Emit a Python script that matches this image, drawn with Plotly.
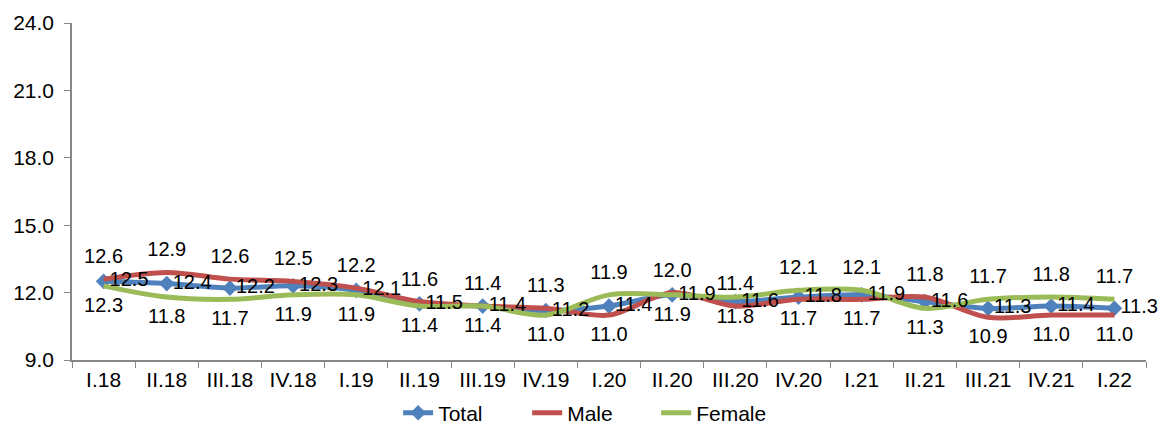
import plotly.graph_objects as go

categories = ["I.18", "II.18", "III.18", "IV.18", "I.19", "II.19", "III.19", "IV.19",
              "I.20", "II.20", "III.20", "IV.20", "I.21", "II.21", "III.21", "IV.21", "I.22"]
total = [12.5, 12.4, 12.2, 12.3, 12.1, 11.5, 11.4, 11.2, 11.4, 11.9, 11.6, 11.8, 11.9, 11.6, 11.3, 11.4, 11.3]
male = [12.6, 12.9, 12.6, 12.5, 12.2, 11.6, 11.4, 11.3, 11.0, 12.0, 11.4, 11.7, 11.7, 11.8, 10.9, 11.0, 11.0]
female = [12.3, 11.8, 11.7, 11.9, 11.9, 11.4, 11.4, 11.0, 11.9, 11.9, 11.8, 12.1, 12.1, 11.3, 11.7, 11.8, 11.7]
male_label_pos = ["top center"] * 8 + ["bottom center", "top center", "top center",
                  "bottom center", "bottom center", "top center",
                  "bottom center", "bottom center", "bottom center"]
female_label_pos = ["bottom center"] * 8 + ["top center", "bottom center", "bottom center",
                    "top center", "top center", "bottom center",
                    "top center", "top center", "top center"]
y_ticks = [9, 12, 15, 18, 21, 24]

BLUE = "#4F81BD"
RED = "#C0504D"
GREEN = "#9BBB59"
FONT = "Liberation Sans, Arial, sans-serif"
FS = 21
LBL = 20

fig = go.Figure()
# lines
fig.add_trace(go.Scatter(
    x=categories, y=total, name="Total", mode="lines+markers",
    line=dict(color=BLUE, width=5, shape="spline", smoothing=0.9),
    marker=dict(symbol="diamond", size=12, color=BLUE),
))
fig.add_trace(go.Scatter(
    x=categories, y=male, name="Male", mode="lines",
    line=dict(color=RED, width=5, shape="spline", smoothing=0.9),
))
fig.add_trace(go.Scatter(
    x=categories, y=female, name="Female", mode="lines",
    line=dict(color=GREEN, width=5, shape="spline", smoothing=0.9),
))
# data labels drawn on top of all lines
fig.add_trace(go.Scatter(
    x=categories, y=total, mode="markers+text", showlegend=False, hoverinfo="skip",
    marker=dict(size=8, color="rgba(0,0,0,0)"),
    text=[f"{v:.1f}" for v in total], textposition="middle right",
    textfont=dict(family=FONT, size=LBL, color="black"), cliponaxis=False,
))
fig.add_trace(go.Scatter(
    x=categories, y=male, mode="markers+text", showlegend=False, hoverinfo="skip",
    marker=dict(size=16, color="rgba(0,0,0,0)"),
    text=[f"{v:.1f}" for v in male], textposition=male_label_pos,
    textfont=dict(family=FONT, size=LBL, color="black"), cliponaxis=False,
))
fig.add_trace(go.Scatter(
    x=categories, y=female, mode="markers+text", showlegend=False, hoverinfo="skip",
    marker=dict(size=16, color="rgba(0,0,0,0)"),
    text=[f"{v:.1f}" for v in female], textposition=female_label_pos,
    textfont=dict(family=FONT, size=LBL, color="black"), cliponaxis=False,
))

fig.update_layout(
    width=1158, height=418,
    margin=dict(l=64, r=20, t=15, b=66, autoexpand=False),
    paper_bgcolor="white", plot_bgcolor="white",
    font=dict(family=FONT, size=FS, color="black"),
    showlegend=True,
    legend=dict(orientation="h", x=0.504, xanchor="center", xref="container",
                y=0.031, yanchor="middle", yref="container",
                font=dict(family=FONT, size=FS, color="black"),
                entrywidth=84, entrywidthmode="pixels",
                tracegroupgap=0, bgcolor="rgba(0,0,0,0)"),
    xaxis=dict(
        type="category", range=[-0.5, len(categories) - 0.5],
        showline=True, linecolor="#868686", linewidth=1.5,
        ticks="outside", tickson="boundaries", ticklen=6, tickcolor="#868686",
        showgrid=False, zeroline=False,
        tickfont=dict(family=FONT, size=FS, color="black"),
    ),
    yaxis=dict(
        range=[9, 24], tickvals=y_ticks, tickformat=".1f",
        showline=True, linecolor="#868686", linewidth=1.5,
        ticks="outside", ticklen=6, tickcolor="#868686", ticklabelstandoff=6,
        showgrid=False, zeroline=False,
        tickfont=dict(family=FONT, size=FS, color="black"),
    ),
)

fig.write_html("out.html")
